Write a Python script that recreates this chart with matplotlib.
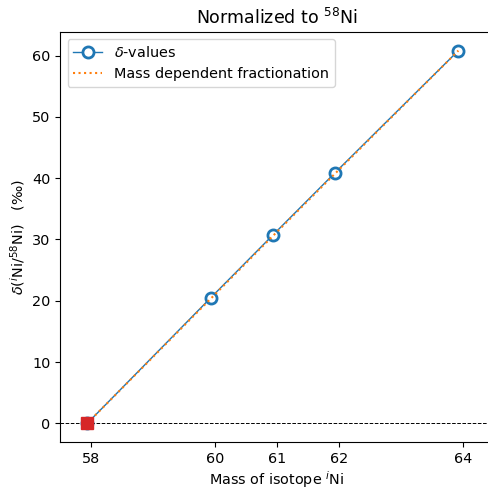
import numpy as np
import matplotlib
matplotlib.use("Agg")
import matplotlib.pyplot as plt

# ----------------------------
# Data
# ----------------------------
masses = [57.9353, 59.9308, 60.9311, 61.9283, 63.9280]
delta_values = [0.0, 20.5, 30.7, 40.8, 60.8]
mdf_values = [0.0, 20.35, 30.55, 40.65, 60.8]
tick_masses = [58, 60, 61, 62, 64]
ref_mass = [57.9353]
ref_delta = [0.0]


def main():
    plt.rcParams["font.size"] = 10.4
    fig = plt.figure(figsize=(4.89, 4.88), dpi=100)
    ax = fig.add_axes([0.1233, 0.0943, 0.8865, 0.8402])

    ax.axhline(0, color="k", linestyle="--", linewidth=0.7)
    ax.plot(masses, delta_values, marker="o", color="C0", linewidth=1,
            markerfacecolor="white", markeredgewidth=2, markersize=8,
            label=r"$\delta$-values")
    ax.plot(masses, mdf_values, linestyle=":", color="C1", linewidth=1.5,
            label="Mass dependent fractionation")
    ax.plot(ref_mass, ref_delta, marker="s", color="C3", markersize=8,
            linestyle="none")

    ax.set_xlim(57.5, 64.5)
    ax.set_ylim(-3.04, 63.84)
    ax.set_xticks(tick_masses)
    ax.set_xticklabels([str(m) for m in tick_masses])

    ax.set_title(r"Normalized to $^{58}$Ni", fontsize=12.5)
    ax.set_xlabel(r"Mass of isotope $^{i}$Ni", labelpad=2.5)
    ax.set_ylabel(r"$\delta$($^{i}$Ni/$^{58}$Ni)   (‰)")
    ax.legend(loc="upper left")

    fig.savefig("out.png", dpi=100)


if __name__ == "__main__":
    main()
